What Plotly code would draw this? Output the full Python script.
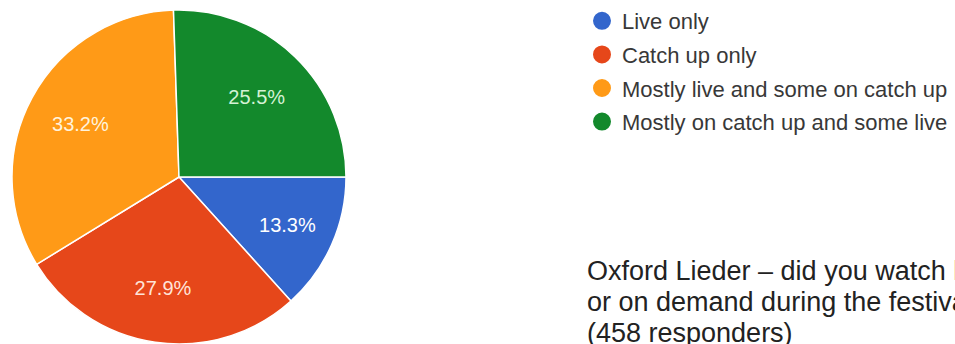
import plotly.graph_objects as go

# Survey answers and their shares (percent of responders)
categories = [
    "Live only",
    "Catch up only",
    "Mostly live and some on catch up",
    "Mostly on catch up and some live",
]
shares = [13.3, 27.9, 33.2, 25.5]

slice_colors = ["#3366cc", "#e6471a", "#ff9a17", "#13892c"]
label_colors = ["#ffffff", "#ffe4d8", "#fff3dc", "#d4f2d4"]

caption_lines = [
    "Oxford Lieder \u2013 did you watch live",
    "or on demand during the festival?",
    "(458 responders)",
]

W, H = 955, 344
pie_domain = dict(x=[12 / W, 346 / W], y=[0, 334 / H])

# Slices run clockwise, the first one starting at 3 o'clock
start_angle = 90

fig = go.Figure()

# The coloured slices
fig.add_trace(go.Pie(
    labels=categories,
    values=shares,
    sort=False,
    direction="clockwise",
    rotation=start_angle,
    marker=dict(colors=slice_colors, line=dict(color="white", width=1.5)),
    textinfo="none",
    hoverinfo="label+percent",
    showlegend=False,
    domain=pie_domain,
))

# Transparent ring over the same slices: it only carries the percentage
# labels, which then sit about two thirds of the way out from the centre.
fig.add_trace(go.Pie(
    labels=categories,
    values=shares,
    sort=False,
    direction="clockwise",
    rotation=start_angle,
    hole=0.34,
    marker=dict(colors=["rgba(0,0,0,0)"] * len(shares),
                line=dict(color="rgba(0,0,0,0)", width=0)),
    text=[f"{v:.1f}%" for v in shares],
    textinfo="text",
    textposition="inside",
    insidetextorientation="horizontal",
    textfont=dict(family="Arial", size=20, color=label_colors),
    hoverinfo="skip",
    showlegend=False,
    domain=pie_domain,
))

# Round legend keys, one per answer
for name, col in zip(categories, slice_colors):
    fig.add_trace(go.Scatter(
        x=[None], y=[None], mode="markers", name=name,
        legendgroup=name,
        marker=dict(symbol="circle", size=16, color=col,
                    line=dict(color=col, width=2)),
        hoverinfo="skip",
    ))

# Caption, one annotation per line for a tighter line spacing
caption_top = 255
line_step = 31
annotations = [
    dict(
        text=line,
        x=586 / W, y=(H - (caption_top + i * line_step)) / H,
        xref="paper", yref="paper",
        xanchor="left", yanchor="top", align="left",
        showarrow=False, borderpad=0,
        font=dict(family="Arial", size=27, color="#222222"),
    )
    for i, line in enumerate(caption_lines)
]

fig.update_layout(
    width=W, height=H,
    margin=dict(l=0, r=0, t=0, b=0),
    paper_bgcolor="white", plot_bgcolor="white",
    xaxis=dict(visible=False), yaxis=dict(visible=False),
    legend=dict(
        x=582 / W, y=1, xanchor="left", yanchor="top",
        font=dict(family="Arial", size=22, color="#383838"),
        traceorder="grouped", tracegroupgap=2,
        bgcolor="rgba(0,0,0,0)",
    ),
    annotations=annotations,
)

fig.write_html("out.html")
